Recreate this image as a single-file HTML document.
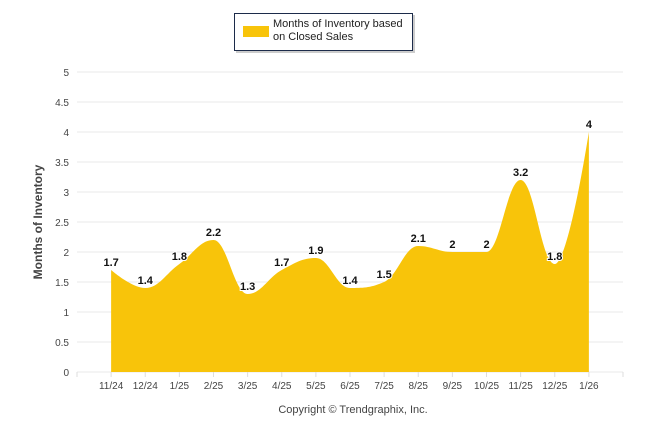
<!DOCTYPE html>
<html><head><meta charset="utf-8"><style>
body{margin:0;background:#fff;font-family:"Liberation Sans",Arial,sans-serif}
svg{display:block}
</style></head><body>
<svg width="646" height="434" id="c">
<rect x="236" y="15" width="179" height="38" fill="#999" opacity="0.5"/>
<rect x="234.5" y="13.5" width="178" height="37" fill="#fff" stroke="#1c2b4a"/>
<rect x="243" y="26" width="26" height="11" fill="#f8c40a"/>
<text x="273" y="27" font-size="11" fill="#222">Months of Inventory based</text>
<text x="273" y="40" font-size="11" fill="#222">on Closed Sales</text>
<text transform="translate(42,222) rotate(-90)" text-anchor="middle" font-size="12" font-weight="bold" fill="#444">Months of Inventory</text>
<text x="353" y="413" text-anchor="middle" font-size="11" fill="#444">Copyright © Trendgraphix, Inc.</text>
<g id="grid"></g><g id="area"></g><g id="labels"></g>
</svg>
<script>
const categories=["11/24","12/24","1/25","2/25","3/25","4/25","5/25","6/25","7/25","8/25","9/25","10/25","11/25","12/25","1/26"];
const values=[1.7,1.4,1.8,2.2,1.3,1.7,1.9,1.4,1.5,2.1,2,2,3.2,1.8,4];
const yTicks=[0,0.5,1,1.5,2,2.5,3,3.5,4,4.5,5];
const NS="http://www.w3.org/2000/svg";
const L=77,R=623,T=72,B=372,yMax=5;
const step=(R-L)/(categories.length+1);
const xs=i=>L+step*(i+1);
const ys=v=>B-(v/yMax)*(B-T);
function mk(t,a,p){const e=document.createElementNS(NS,t);for(const k in a)e.setAttribute(k,a[k]);p.appendChild(e);return e;}
const g=document.getElementById('grid');
yTicks.forEach(v=>{
 const l=mk('line',{x1:L,x2:R,y1:ys(v),y2:ys(v),stroke:'#e8e8e8'},g);
 
 
 const t=mk('text',{x:L-8,y:ys(v)+4,'text-anchor':'end','font-size':'10',fill:'#444'},g);
 t.textContent=v;
 
 
});
for(let i=0;i<=categories.length+1;i++){
 const x=L+step*i;
 const tk=mk('line',{x1:x,x2:x,y1:B,y2:B+5,stroke:'#ddd'},g);
 
 
}
categories.forEach((c,i)=>{
 const t=mk('text',{x:xs(i),y:B+17,'text-anchor':'middle','font-size':'10',fill:'#444'},g);
 t.textContent=c;
 
 
});
// Highcharts-style spline
const pts=values.map((v,i)=>[xs(i),ys(v)]);
function ctrl(i){
 const sm=1.5,d=sm+1;const p=pts[i],a=pts[i-1],b=pts[i+1];
 if(!a||!b)return null;
 let lx=(sm*p[0]+a[0])/d,ly=(sm*p[1]+a[1])/d,rx=(sm*p[0]+b[0])/d,ry=(sm*p[1]+b[1])/d;
 let cy=0;if(rx!==lx)cy=((ry-ly)*(rx-p[0]))/(rx-lx)+p[1]-ry;
 ly+=cy;ry+=cy;
 if(ly>a[1]&&ly>p[1]){ly=Math.max(a[1],p[1]);ry=2*p[1]-ly;}else if(ly<a[1]&&ly<p[1]){ly=Math.min(a[1],p[1]);ry=2*p[1]-ly;}
 if(ry>b[1]&&ry>p[1]){ry=Math.max(b[1],p[1]);ly=2*p[1]-ry;}else if(ry<b[1]&&ry<p[1]){ry=Math.min(b[1],p[1]);ly=2*p[1]-ry;}
 return {l:[lx,ly],r:[rx,ry]};
}
let d=`M${pts[0][0]},${B}L${pts[0][0]},${pts[0][1]}`;
for(let i=1;i<pts.length;i++){
 const c0=ctrl(i-1),c1=ctrl(i);
 const a=c0?c0.r:pts[i-1],b=c1?c1.l:pts[i];
 d+=`C${a[0]},${a[1]} ${b[0]},${b[1]} ${pts[i][0]},${pts[i][1]}`;
}
d+=`L${pts[pts.length-1][0]},${B}Z`;
const ar=mk('path',{d:d,fill:'#f8c40a'},document.getElementById('area'));


const lg=document.getElementById('labels');
values.forEach((v,i)=>{
 const t=mk('text',{x:xs(i),y:ys(v)-4,'text-anchor':'middle','font-size':'11','font-weight':'bold',fill:'#111',stroke:'#fff','stroke-width':'2','paint-order':'stroke'},lg);
 t.textContent=v;
 
 
});
</script>
</body></html>
